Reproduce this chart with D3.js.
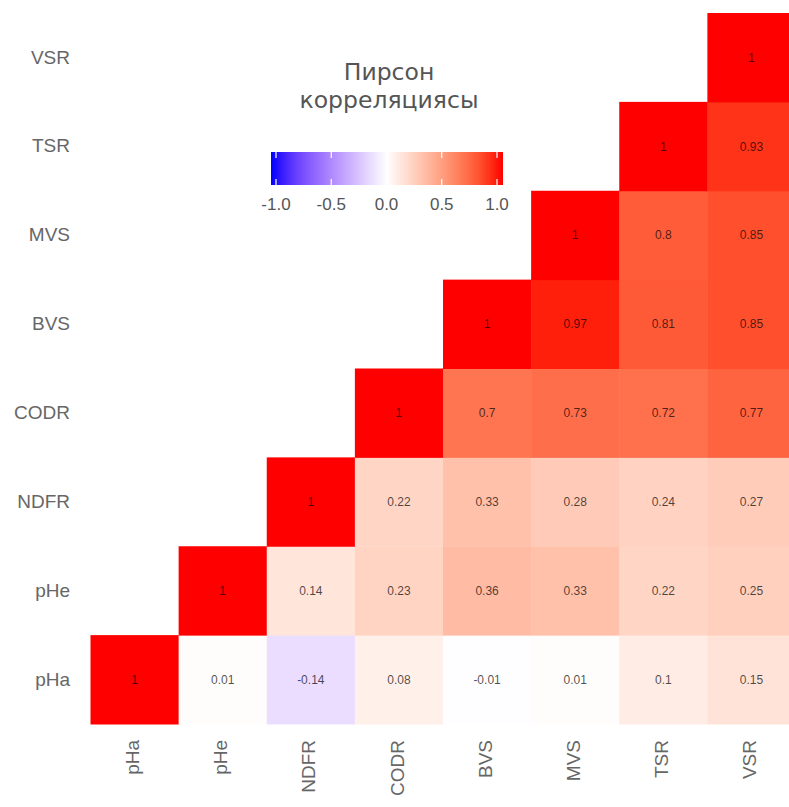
<!DOCTYPE html>
<html>
<head>
<meta charset="utf-8">
<script src="https://cdn.jsdelivr.net/npm/d3@7"></script>
<style>
  body { margin: 0; background: #fff; }
  svg { display: block; }
</style>
</head>
<body>
<div id="chart"></div>
<script>
const variables = ["pHa", "pHe", "NDFR", "CODR", "BVS", "MVS", "TSR", "VSR"];

// one row per variable, values for the columns from that variable rightwards
const rowPHa  = [1, 0.01, -0.14, 0.08, -0.01, 0.01, 0.1, 0.15];
const rowPHe  = [1, 0.14, 0.23, 0.36, 0.33, 0.22, 0.25];
const rowNDFR = [1, 0.22, 0.33, 0.28, 0.24, 0.27];
const rowCODR = [1, 0.7, 0.73, 0.72, 0.77];
const rowBVS  = [1, 0.97, 0.81, 0.85];
const rowMVS  = [1, 0.8, 0.85];
const rowTSR  = [1, 0.93];
const rowVSR  = [1];

const legendTicks = [-1, -0.5, 0, 0.5, 1];
const legendTitle = ["Пирсон", "корреляциясы"];

const rows = [rowPHa, rowPHe, rowNDFR, rowCODR, rowBVS, rowMVS, rowTSR, rowVSR];
const cells = [];
rows.forEach((vals, i) => {
  vals.forEach((v, k) => {
    cells.push({ row: variables[i], col: variables[i + k], value: v });
  });
});

const width = 789;
const height = 807;

const svg = d3.select("#chart")
  .append("svg")
  .attr("width", width)
  .attr("height", height);

const x = d3.scaleBand()
  .domain(variables)
  .range([90.5, 795.5]);

const y = d3.scaleBand()
  .domain(variables.slice().reverse())
  .range([13, 724]);

const color = d3.scaleLinear()
  .domain([-1, 0, 1])
  .range(["#0000ff", "#ffffff", "#ff0000"])
  .interpolate(d3.interpolateLab);

svg.append("g")
  .selectAll("rect")
  .data(cells)
  .join("rect")
  .attr("x", d => x(d.col))
  .attr("y", d => y(d.row))
  .attr("width", x.bandwidth() + 0.5)
  .attr("height", y.bandwidth() + 0.5)
  .attr("fill", d => color(d.value));

svg.append("g")
  .selectAll("text")
  .data(cells)
  .join("text")
  .attr("x", d => x(d.col) + x.bandwidth() / 2)
  .attr("y", d => y(d.row) + y.bandwidth() / 2)
  .attr("dy", "0.35em")
  .attr("text-anchor", "middle")
  .style("font-family", "Liberation Sans, Arial, sans-serif")
  .style("font-size", "12px")
  .attr("fill", "#000")
  .attr("fill-opacity", 0.7)
  .text(d => String(d.value));

// Y axis labels
const yAxis = d3.axisLeft(y).tickSize(0).tickPadding(20);
svg.append("g")
  .attr("transform", "translate(90,0)")
  .call(yAxis)
  .call(g => g.select(".domain").remove())
  .selectAll("text")
  .style("font-family", "Liberation Sans, Arial, sans-serif")
  .style("font-size", "19px")
  .attr("fill", "#666");

// X axis labels, rotated
const xAxis = d3.axisBottom(x).tickSize(0).tickPadding(0);
svg.append("g")
  .attr("transform", "translate(0,724)")
  .call(xAxis)
  .call(g => g.select(".domain").remove())
  .selectAll("text")
  .attr("transform", "rotate(-90)")
  .attr("x", -16)
  .attr("y", -2)
  .attr("dy", "0.35em")
  .attr("text-anchor", "end")
  .style("font-family", "Liberation Sans, Arial, sans-serif")
  .style("font-size", "19px")
  .attr("fill", "#666");

// Legend
const lx = d3.scaleLinear().domain([-1, 1]).range([276, 497]);
const barLeft = 271, barRight = 503, barTop = 152, barBottom = 185;

const defs = svg.append("defs");
const grad = defs.append("linearGradient")
  .attr("id", "legend-grad")
  .attr("gradientUnits", "userSpaceOnUse")
  .attr("x1", barLeft).attr("x2", barRight)
  .attr("y1", 0).attr("y2", 0);

d3.range(0, 1.0001, 0.05).forEach(t => {
  const v = lx.invert(barLeft + t * (barRight - barLeft));
  grad.append("stop")
    .attr("offset", t)
    .attr("stop-color", color(Math.max(-1, Math.min(1, v))));
});

const legend = svg.append("g").attr("class", "legend");

legend.append("rect")
  .attr("x", barLeft)
  .attr("y", barTop)
  .attr("width", barRight - barLeft)
  .attr("height", barBottom - barTop)
  .attr("fill", "url(#legend-grad)");

legendTicks.forEach(t => {
  legend.append("line")
    .attr("x1", lx(t)).attr("x2", lx(t))
    .attr("y1", barTop).attr("y2", barTop + 6)
    .attr("stroke", "#fff").attr("stroke-width", 1.2);
  legend.append("line")
    .attr("x1", lx(t)).attr("x2", lx(t))
    .attr("y1", barBottom - 6).attr("y2", barBottom)
    .attr("stroke", "#fff").attr("stroke-width", 1.2);
  legend.append("text")
    .attr("x", lx(t))
    .attr("y", 210)
    .attr("text-anchor", "middle")
    .style("font-family", "Liberation Sans, Arial, sans-serif")
    .style("font-size", "17px")
    .attr("fill", "#555")
    .text(d3.format(".1f")(t).replace("−", "-"));
});

legendTitle.forEach((line, i) => {
  legend.append("text")
    .attr("x", 389)
    .attr("y", 80 + i * 28)
    .attr("text-anchor", "middle")
    .style("font-family", "DejaVu Sans, sans-serif")
    .style("font-size", "23.5px")
    .attr("fill", "#555")
    .text(line);
});
</script>
</body>
</html>
